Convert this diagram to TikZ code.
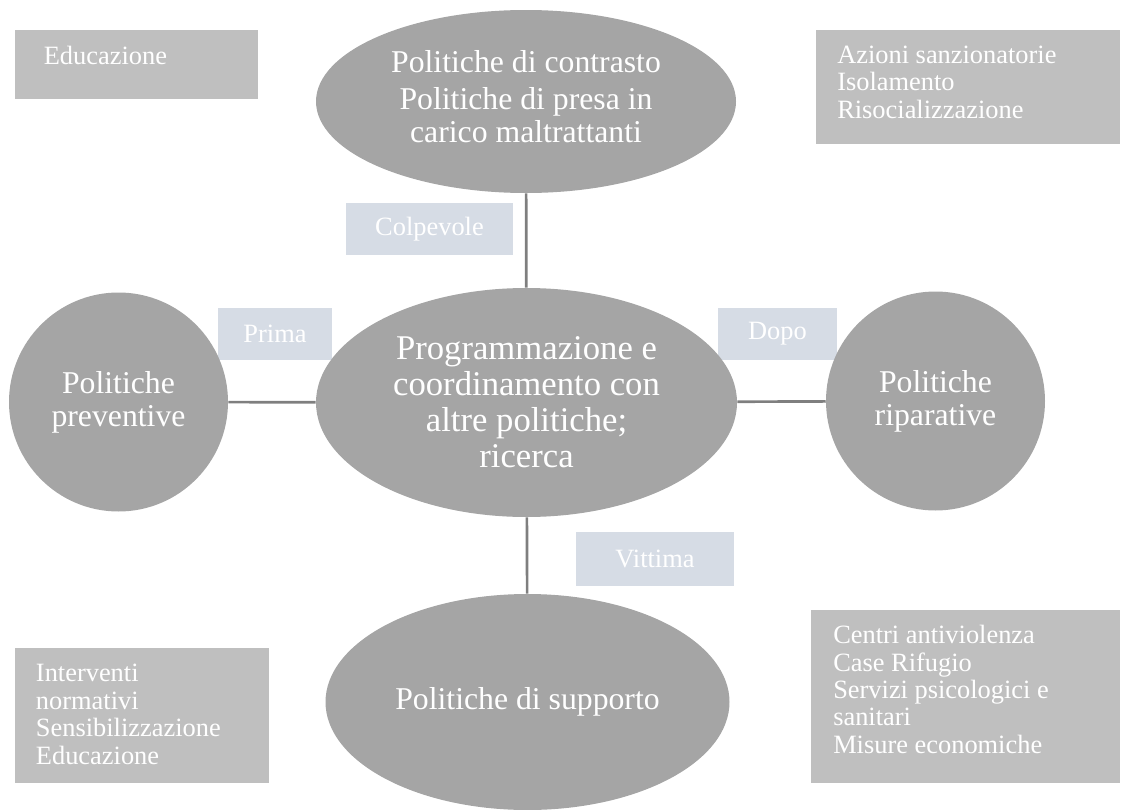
\documentclass[tikz,border=0pt]{standalone}
\usepackage{fontspec}
\setmainfont{Liberation Serif}
\usetikzlibrary{shapes.geometric}

\definecolor{blobgray}{HTML}{A5A5A5}
\definecolor{boxgray}{HTML}{BFBFBF}
\definecolor{tagblue}{HTML}{D6DCE5}
\definecolor{linkgray}{HTML}{7F7F7F}

\begin{document}
\begin{tikzpicture}[
  x=0.75pt, y=-0.75pt,
  blob/.style={ellipse, fill=blobgray, text=white, inner sep=0pt, align=center, font=\fontsize{23.8}{24.6}\selectfont},
  disc/.style={circle, fill=blobgray, text=white, inner sep=0pt, minimum size=164.25pt, align=center, font=\fontsize{23.8}{24.6}\selectfont},
  listbox/.style={fill=boxgray, inner sep=0pt},
  listtext/.style={anchor=north west, inner sep=0pt, align=left, text=white, font=\fontsize{19.8}{20.6}\selectfont},
  tag/.style={fill=tagblue, text=white, inner sep=0pt, minimum height=39pt, font=\fontsize{19.8}{20.6}\selectfont},
  link/.style={draw=linkgray, line width=2pt}
]
\useasboundingbox (0,0) rectangle (1121,810);

% corner lists
\node[listbox, minimum width=182.25pt, minimum height=51.75pt] (edubox) at (136.5,64.5) {};
\node[listtext] (edutext) at (43.6,45.5) {Educazione};

\node[listbox, minimum width=228pt, minimum height=85.5pt] (sanzbox) at (968,87) {};
\node[listtext] (sanztext) at (837,45.5) {Azioni sanzionatorie\\Isolamento\\Risocializzazione};

\node[listbox, minimum width=190.2pt, minimum height=101.25pt] (normbox) at (141.8,715.5) {};
\node[listtext] (normtext) at (35.7,664) {Interventi\\normativi\\Sensibilizzazione\\Educazione};

\node[listbox, minimum width=231.75pt, minimum height=129.75pt] (centribox) at (965.5,696.5) {};
\node[listtext] (centritext) at (833,625) {Centri antiviolenza\\Case Rifugio\\Servizi psicologici e\\sanitari\\Misure economiche};

% tags on the links
\node[tag, minimum width=125.25pt] (colp) at (429.5,229) {Colpevole};
\node[tag, minimum width=85.5pt] (prima) at (275,334) {Prima};
\node[tag, minimum width=89.25pt] (dopo) at (777.5,334) {Dopo};
\node[tag, minimum width=118.2pt, minimum height=40.3pt] (vitt) at (655,559) {Vittima};

% policies
\node[blob, minimum width=315pt, minimum height=137.25pt] (contr) at (526,101.5)
  {Politiche di contrasto\\[3.5pt]Politiche di presa in\\carico maltrattanti\rule[-8pt]{0pt}{0pt}};
\node[blob, minimum width=315.75pt, minimum height=171.75pt, font=\fontsize{26}{27}\selectfont] (prog) at (526.5,402.5)
  {Programmazione e\\coordinamento con\\altre politiche;\\ricerca};
\node[disc] (prev) at (118.5,402) {Politiche\\preventive};
\node[disc] (ripar) at (935.5,401) {Politiche\\riparative};
\node[blob, minimum width=303pt, minimum height=162pt] (supp) at (527.5,702) {Politiche di supporto};

\draw[link] (contr) -- (prog);
\draw[link] (prev) -- (prog);
\draw[link] (prog) -- (ripar);
\draw[link] (prog) -- (supp);

\end{tikzpicture}
\end{document}
